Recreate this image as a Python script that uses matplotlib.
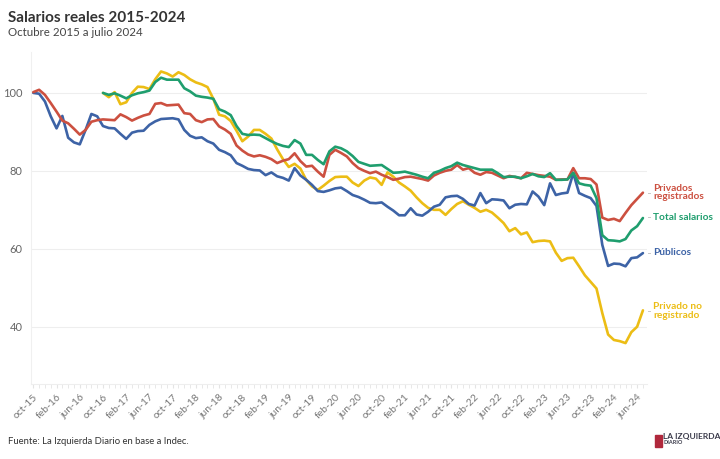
import matplotlib
matplotlib.use("Agg")
import matplotlib.pyplot as plt
from matplotlib.lines import Line2D
import numpy as np

plt.rcParams['font.family'] = ['Lato', 'DejaVu Sans']

# Months from oct-2015 (index 0) to jul-2024 (index 105)
tick_labels = ["oct-15", "feb-16", "jun-16", "oct-16", "feb-17", "jun-17", "oct-17",
               "feb-18", "jun-18", "oct-18", "feb-19", "jun-19", "oct-19", "feb-20",
               "jun-20", "oct-20", "feb-21", "jun-21", "oct-21", "feb-22", "jun-22",
               "oct-22", "feb-23", "jun-23", "oct-23", "feb-24", "jun-24"]

privados_registrados = [
    100.2, 100.8, 99.5, 97.4, 95.2, 92.9, 92.2, 90.8, 89.3, 90.5,
    92.6, 93.0, 93.2, 93.1, 93.0, 94.5, 93.8, 92.9, 93.6, 94.2,
    94.6, 97.2, 97.4, 96.8, 96.9, 97.0, 94.8, 94.6, 93.0, 92.5,
    93.2, 93.3, 91.4, 90.6, 89.5, 86.5, 85.2, 84.2, 83.7, 84.0,
    83.6, 83.0, 82.0, 82.6, 83.0, 84.5, 82.5, 81.1, 81.3, 79.8,
    78.5, 84.1, 85.4, 84.6, 83.7, 82.0, 80.7, 80.0, 79.4, 79.8,
    79.0, 78.4, 77.7, 78.0, 78.4, 78.5, 78.2, 77.9, 77.5, 78.8,
    79.5, 80.0, 80.3, 81.5, 80.3, 80.7, 79.5, 79.0, 79.7, 79.5,
    78.8, 78.1, 78.7, 78.4, 78.1, 79.5, 79.2, 78.9, 78.7, 78.5,
    77.7, 77.8, 77.8, 80.7, 78.1, 78.1, 77.9, 76.5, 68.0, 67.4,
    67.7, 67.1, 69.2, 71.2, 72.8, 74.4]

publicos = [
    100.0, 99.8, 97.8, 94.0, 90.9, 94.1, 88.5, 87.3, 86.8, 90.5,
    94.6, 94.0, 91.5, 91.0, 90.9, 89.5, 88.2, 89.8, 90.2, 90.3,
    91.8, 92.7, 93.3, 93.4, 93.5, 93.2, 90.5, 89.0, 88.4, 88.6,
    87.6, 87.0, 85.4, 84.8, 84.0, 82.0, 81.3, 80.5, 80.2, 80.1,
    78.9, 79.6, 78.6, 78.2, 77.5, 80.7, 78.8, 77.7, 76.4, 74.8,
    74.6, 75.0, 75.5, 75.7, 74.8, 73.8, 73.3, 72.6, 71.8, 71.7,
    71.9, 70.8, 69.8, 68.6, 68.6, 70.4, 68.8, 68.5, 69.5, 70.8,
    71.3, 73.2, 73.5, 73.6, 72.8, 71.5, 71.1, 74.3, 71.7, 72.7,
    72.6, 72.4, 70.4, 71.3, 71.5, 71.4, 74.7, 73.4, 71.2, 76.8,
    73.8, 74.2, 74.4, 79.4, 74.3, 73.6, 73.0, 71.0, 61.0, 55.6,
    56.2, 56.1, 55.5, 57.6, 57.8, 58.9]

# Start in oct-2016 (index 12)
total_salarios = [
    100.0, 99.5, 99.9, 99.3, 98.6, 99.4, 99.9, 100.2, 100.6, 102.8,
    103.9, 103.4, 103.4, 103.4, 101.2, 100.4, 99.3, 99.0, 98.8, 98.5,
    95.8, 95.2, 94.3, 91.5, 89.5, 89.2, 89.3, 89.2, 88.4, 87.6,
    86.9, 86.4, 86.1, 87.9, 87.0, 84.1, 84.1, 82.8, 81.7, 85.0,
    86.2, 85.8, 85.0, 83.8, 82.3, 81.8, 81.3, 81.4, 81.5, 80.5,
    79.5, 79.6, 79.8, 79.4, 79.0, 78.5, 78.1, 79.5, 80.0, 80.7,
    81.2, 82.1, 81.5, 81.1, 80.7, 80.3, 80.3, 80.3, 79.4, 78.4,
    78.5, 78.5, 78.1, 78.6, 79.2, 78.6, 78.4, 79.4, 77.7, 77.7,
    77.8, 79.5, 76.8, 76.4, 76.2, 73.0, 63.5, 62.2, 62.1, 61.9,
    62.5, 64.7, 65.8, 67.9]

privado_no_registrado = [
    100.0, 98.9, 100.2, 97.1, 97.6, 100.0, 101.6, 101.5, 101.0, 103.5,
    105.5, 105.0, 104.2, 105.3, 104.6, 103.5, 102.7, 102.2, 101.5, 98.5,
    94.4, 94.0, 92.8, 90.3, 87.6, 88.8, 90.5, 90.5, 89.5, 88.3,
    85.5, 83.0, 81.0, 81.8, 80.6, 77.7, 76.0, 75.1, 76.2, 77.4,
    78.4, 78.5, 78.5, 77.0, 76.1, 77.5, 78.3, 78.0, 76.4, 79.6,
    78.5, 77.0, 76.0, 74.9, 73.2, 71.7, 70.5, 70.0, 70.0, 68.7,
    70.2, 71.5, 72.2, 71.3, 70.5, 69.5, 70.0, 69.3, 68.0, 66.6,
    64.5, 65.3, 63.7, 64.2, 61.7, 62.0, 62.1, 61.9, 59.0, 56.9,
    57.6, 57.7, 55.5, 53.2, 51.5, 49.8, 43.5, 38.0, 36.6, 36.3,
    35.8, 38.6, 40.0, 44.2]

series_names = ["Privados\nregistrados", "Total salarios", "Públicos", "Privado no\nregistrado"]
colors = ["#cc5040", "#1f9e6e", "#3d63a6", "#ecbd15"]

fig = plt.figure(figsize=(7.2, 4.59), dpi=100)
ax = fig.add_axes([31/720, 1 - 384/459, (647 - 31)/720, (384 - 52)/459])

x_full = np.arange(len(privados_registrados))
x_late = np.arange(12, 12 + len(total_salarios))

series = [(x_full, privados_registrados), (x_late, total_salarios),
          (x_full, publicos), (x_late, privado_no_registrado)]

# draw order: yellow, blue, red, green
order = [3, 2, 0, 1]
for i in order:
    xs, ys = series[i]
    ax.plot(xs, ys, color=colors[i], lw=1.9, solid_joinstyle='round',
            solid_capstyle='round', zorder=3)

ax.set_xlim(-0.4, 105.7)
ax.set_ylim(25.3, 110.5)

ax.set_yticks([40, 60, 80, 100])
ax.yaxis.grid(True, color="#eeeeee", lw=0.8)
ax.tick_params(axis='y', length=0, labelsize=8, labelcolor="#666666", pad=6)

ax.set_xticks(np.arange(0, 105, 4))
ax.set_xticklabels(tick_labels, rotation=45, ha='right', rotation_mode='anchor',
                   fontsize=7.5, color="#777777")
ax.set_xticks(np.arange(0, 106, 1), minor=True)
ax.tick_params(axis='x', which='both', length=3, color="#e4e4e4", pad=3)

for s in ['top', 'right']:
    ax.spines[s].set_visible(False)
ax.spines['left'].set_color("#f0f0f0")
ax.spines['bottom'].set_color("#eeeeee")

# end labels
label_pos = [192.5, 217, 253, 311]
connector_pos = [193, 217, 253, 311]
for name, col, yp, cy in zip(series_names, colors, label_pos, connector_pos):
    fig.text(653/720, 1 - yp/459, name, color=col, fontsize=7.3, fontweight='bold',
             ha='left', va='center', linespacing=0.95)
    fig.lines.append(Line2D([647.5/720, 650/720], [1 - cy/459, 1 - cy/459],
                            transform=fig.transFigure, color="#c8c8c8", lw=0.7))

fig.text(8/720, 1 - 18/459, "Salarios reales 2015-2024", fontsize=11,
         fontweight='bold', color="#333333", ha='left', va='center')
fig.text(8/720, 1 - 32/459, "Octubre 2015 a julio 2024", fontsize=8.3,
         color="#444444", ha='left', va='center')
fig.text(8/720, 1 - 442/459, "Fuente: La Izquierda Diario en base a Indec.",
         fontsize=6.8, color="#333333", ha='left', va='center')

# logo (text approximation)
fig.text(663/720, 1 - 437/459, "LA IZQUIERDA", fontsize=6, fontweight='bold',
         color="#3a3a4a", ha='left', va='center')
fig.text(663/720, 1 - 443/459, "DIARIO", fontsize=4, fontweight='bold',
         color="#3a3a4a", ha='left', va='center')
fig.patches.append(plt.Rectangle((655/720, 1 - 447/459), 7/720, 12/459,
                                 transform=fig.transFigure, color="#b0283c"))

fig.savefig("out.png", dpi=100, facecolor="white")
